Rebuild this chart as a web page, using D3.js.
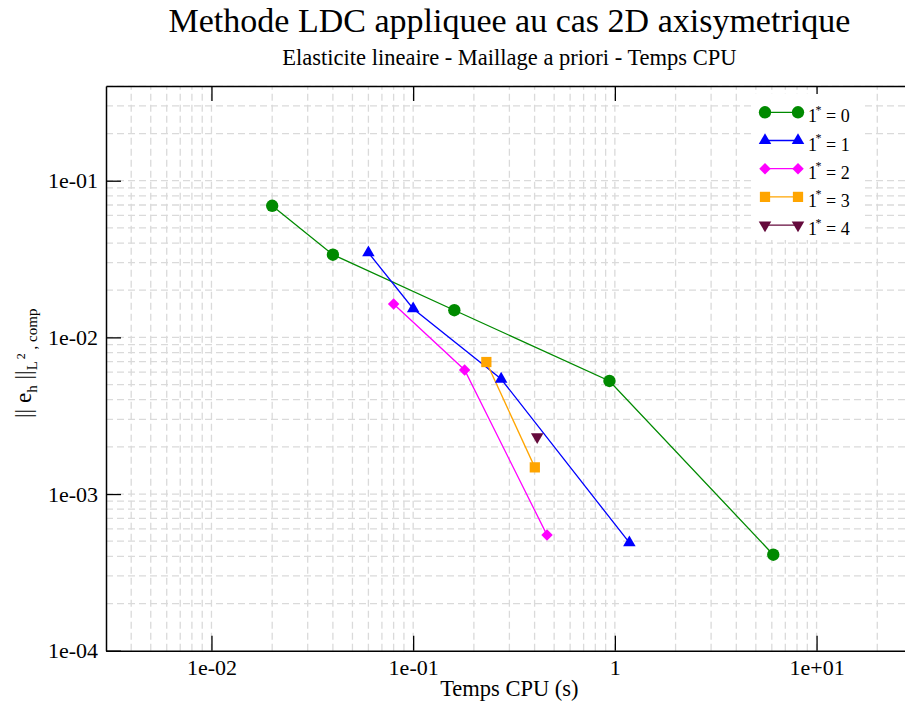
<!DOCTYPE html>
<html>
<head>
<meta charset="utf-8">
<script src="https://cdn.jsdelivr.net/npm/d3@7"></script>
<style>
  html, body { margin: 0; padding: 0; background: #fff; }
  svg { display: block; }
  text { font-family: "Liberation Serif", "DejaVu Serif", serif; fill: #000; }
</style>
</head>
<body>
<svg id="chart" width="905" height="704"></svg>
<script>
// ---- data ----
const titleText = "Methode LDC appliquee au cas 2D axisymetrique";
const subtitleText = "Elasticite lineaire - Maillage a priori - Temps CPU";
const xLabel = "Temps CPU (s)";

const seriesNames = ["0", "1", "2", "3", "4"];
const seriesColors = ["#008a00", "#0000ff", "#ff00ff", "#ffa500", "#650a3c"];

const cpu0 = [0.02, 0.04, 0.16, 0.94, 6.1];
const err0 = [0.0692, 0.0337, 0.0149, 0.00527, 0.00041];
const cpu1 = [0.06, 0.1, 0.273, 1.18];
const err1 = [0.0347, 0.01524, 0.00542, 0.000489];
const cpu2 = [0.08, 0.18, 0.461];
const err2 = [0.01633, 0.00619, 0.000547];
const cpu3 = [0.2306, 0.401];
const err3 = [0.00696, 0.00148];
const cpu4 = [0.412];
const err4 = [0.00232];

const xTickValues = [0.01, 0.1, 1, 10];
const xTickLabels = ["1e-02", "1e-01", "1", "1e+01"];
const yTickValues = [1e-4, 1e-3, 1e-2, 1e-1];
const yTickLabels = ["1e-04", "1e-03", "1e-02", "1e-01"];

const xDomain = [0.003, 30];
const yDomain = [1e-4, 0.4023];

(function () {
const pL = 106, pR = 912.8, pT = 86, pB = 650.7;
const svg = d3.select("#chart");
const x = d3.scaleLog().domain(xDomain).range([pL, pR]);
const y = d3.scaleLog().domain(yDomain).range([pB, pT]);

const series = [
  {x: cpu0, y: err0}, {x: cpu1, y: err1}, {x: cpu2, y: err2},
  {x: cpu3, y: err3}, {x: cpu4, y: err4}
].map((s, i) => ({
  name: seriesNames[i], color: seriesColors[i],
  pts: s.x.map((v, j) => [v, s.y[j]])
}));

function gridVals(dom) {
  const out = [];
  for (let k = Math.floor(Math.log10(dom[0])); k <= Math.ceil(Math.log10(dom[1])); k++) {
    for (let m = 1; m <= 9; m++) {
      const v = m * Math.pow(10, k);
      if (v >= dom[0] * 1.0001 && v <= dom[1] * 0.9999) out.push(v);
    }
  }
  return out;
}

const grid = svg.append("g").attr("stroke", "#dadada").attr("stroke-width", 1.3)
  .attr("stroke-dasharray", "7,4").attr("fill", "none");
grid.selectAll("line.v").data(gridVals(xDomain)).join("line").attr("class", "v")
  .attr("x1", d => x(d)).attr("x2", d => x(d)).attr("y1", pB).attr("y2", pT);
grid.selectAll("line.h").data(gridVals(yDomain)).join("line").attr("class", "h")
  .attr("y1", d => y(d)).attr("y2", d => y(d)).attr("x1", pL).attr("x2", pR);

const axesG = svg.append("g");
axesG.append("g").attr("transform", `translate(0,${pB})`)
  .call(d3.axisBottom(x).tickValues(xTickValues).tickFormat((d, i) => xTickLabels[i]).tickSizeInner(-15).tickSizeOuter(0).tickPadding(9));
axesG.append("g").attr("transform", `translate(0,${pT})`)
  .call(d3.axisTop(x).tickValues(xTickValues).tickFormat("").tickSizeInner(-15).tickSizeOuter(0));
axesG.append("g").attr("transform", `translate(${pL},0)`)
  .call(d3.axisLeft(y).tickValues(yTickValues).tickFormat((d, i) => yTickLabels[i]).tickSizeInner(-15).tickSizeOuter(0).tickPadding(8));
axesG.selectAll(".domain").attr("stroke", "#000").attr("stroke-width", 1.5);
axesG.selectAll(".tick line").attr("stroke", "#000").attr("stroke-width", 1.3);
axesG.selectAll(".tick text").attr("font-family", "Liberation Serif").attr("font-size", 22).attr("fill", "#000");

const symbolFor = [
  {type: d3.symbolCircle, size: 120, rot: 0},
  {type: d3.symbolTriangle, size: 68, rot: 0},
  {type: d3.symbolSquare, size: 66, rot: 45},
  {type: d3.symbolSquare, size: 105, rot: 0},
  {type: d3.symbolTriangle, size: 68, rot: 180}
];

const line = d3.line().x(d => x(d[0])).y(d => y(d[1]));
const plotG = svg.append("g");
series.forEach((s) => {
  plotG.append("path").datum(s.pts).attr("d", line)
    .attr("fill", "none").attr("stroke", s.color).attr("stroke-width", 1.3);
});
series.forEach((s, i) => {
  const sym = symbolFor[i];
  plotG.selectAll(null).data(s.pts).join("path")
    .attr("d", d3.symbol().type(sym.type).size(sym.size))
    .attr("transform", d => `translate(${x(d[0])},${y(d[1])}) rotate(${sym.rot})`)
    .attr("fill", s.color);
});

const legendX0 = 765, legendX1 = 798, legendY0 = 112.3, legendDy = 28.2;
svg.append("rect").attr("x", 751).attr("y", 94).attr("width", 111).attr("height", 146).attr("fill", "#fff");
const lg = svg.append("g");
series.forEach((s, i) => {
  const yy = legendY0 + i * legendDy;
  const sym = symbolFor[i];
  lg.append("line").attr("x1", legendX0).attr("x2", legendX1).attr("y1", yy).attr("y2", yy)
    .attr("stroke", s.color).attr("stroke-width", 1.3);
  [legendX0, legendX1].forEach(px => {
    lg.append("path").attr("d", d3.symbol().type(sym.type).size(sym.size))
      .attr("transform", `translate(${px},${yy}) rotate(${sym.rot})`).attr("fill", s.color);
  });
  lg.append("text").attr("x", 808).attr("y", yy + 10).attr("font-size", 18).text("1");
  lg.append("text").attr("x", 815.5).attr("y", yy + 1.5).attr("font-size", 12).text("*");
  lg.append("text").attr("x", 826).attr("y", yy + 10).attr("font-size", 18).text("= " + s.name);
});

const cx = (pL + pR) / 2;
svg.append("text").attr("x", cx).attr("y", 32).attr("text-anchor", "middle")
  .attr("font-size", 34).text(titleText);
svg.append("text").attr("x", cx).attr("y", 65).attr("text-anchor", "middle")
  .attr("font-size", 22.5).text(subtitleText);
svg.append("text").attr("x", cx).attr("y", 696).attr("text-anchor", "middle")
  .attr("font-size", 22.5).text(xLabel);

const yl = svg.append("text").attr("transform", "translate(31,418) rotate(-90)")
  .attr("font-size", 23);
yl.append("tspan").text("|| e");
yl.append("tspan").attr("font-size", 15).attr("dy", 6).text("h");
yl.append("tspan").attr("dy", -6).text(" ||");
yl.append("tspan").attr("font-size", 15).attr("dy", 6).text("L");
yl.append("tspan").attr("font-size", 12).attr("dy", -12).attr("dx", 2).text("2");
yl.append("tspan").attr("font-size", 15).attr("dy", 12).text(" , comp");
})();
</script>
</body>
</html>
